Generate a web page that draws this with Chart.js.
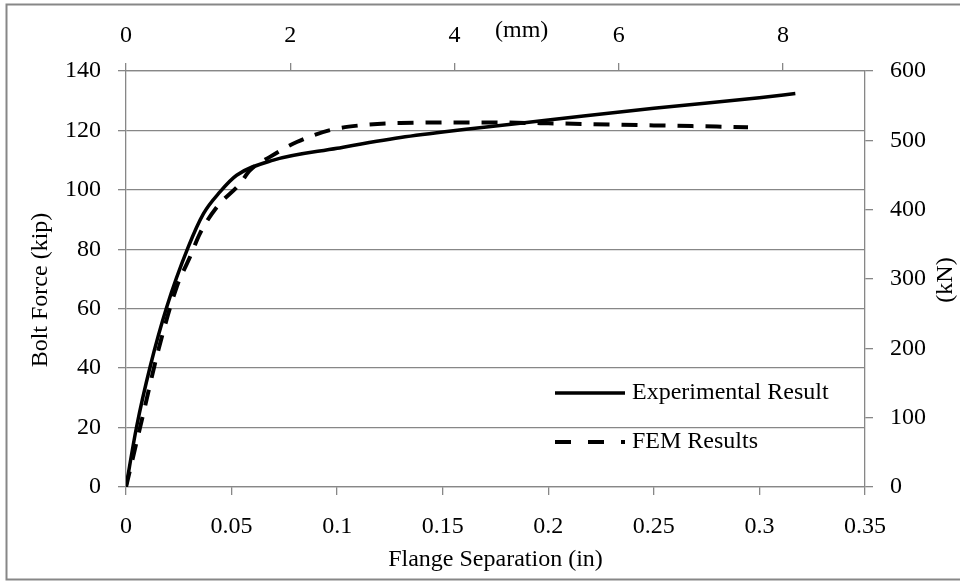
<!DOCTYPE html>
<html>
<head>
<meta charset="utf-8">
<script src="https://cdn.jsdelivr.net/npm/chart.js@4"></script>
<style>
  body { margin: 0; background: #fff; }
  #wrap { width: 960px; height: 581px; }
</style>
</head>
<body>
<div id="wrap"><canvas id="boltChart" width="960" height="581"></canvas></div>
<script>
// Experimental result (solid line): flange separation (in) vs bolt force (kip)
const expSep = [0, 0.005, 0.0114, 0.0193, 0.0295, 0.0367, 0.0445, 0.0524, 0.0698, 0.1, 0.13, 0.16, 0.2, 0.25, 0.3, 0.317];
const expForce = [0, 20.2, 40.4, 60.6, 80.8, 92, 99.3, 104.9, 110, 114, 117.6, 120.3, 123.5, 127.5, 131, 132.4];

// FEM results (dashed line)
const femSep = [0, 0.0082, 0.0153, 0.024, 0.0303, 0.035, 0.043, 0.054, 0.0587, 0.0682, 0.0809, 0.0966, 0.1108, 0.13, 0.17, 0.2, 0.25, 0.2946];
const femForce = [0, 24.7, 46, 67.3, 77.4, 85.3, 94.2, 102.1, 106.6, 111.1, 116.1, 120.1, 121.7, 122.5, 122.7, 122.4, 121.7, 121.1];

// tick labels of the secondary axes
const mmTicks = [0, 2, 4, 6, 8];
const kNTicks = [0, 100, 200, 300, 400, 500, 600];

const seriesNames = ["Experimental Result", "FEM Results"];

const GRAY = "#878787";
const FONT = "'Liberation Serif', 'Times New Roman', serif";

Chart.defaults.font.family = FONT;
Chart.defaults.font.size = 24;
Chart.defaults.color = "#000";

const toPoints = (xs, ys) => xs.map((x, i) => ({ x: x, y: ys[i] }));

// white page with gray frame
const frame = {
  id: "frame",
  beforeDraw(chart) {
    const ctx = chart.ctx;
    ctx.save();
    ctx.fillStyle = "#fff";
    ctx.fillRect(0, 0, chart.width, chart.height);
    ctx.strokeStyle = GRAY;
    ctx.lineWidth = 2;
    ctx.strokeRect(6.5, 4.5, chart.width + 10, chart.height - 6);
    ctx.restore();
  },
};

// extra titles and the legend inside the plot
const extras = {
  id: "extras",
  afterDraw(chart) {
    const ctx = chart.ctx;
    const area = chart.chartArea;
    ctx.save();
    ctx.fillStyle = "#000";
    ctx.font = "24px " + FONT;
    ctx.textBaseline = "middle";

    // (mm) on the top axis
    ctx.textAlign = "left";
    ctx.fillText("(mm)", 495, 31);

    // left title
    ctx.save();
    ctx.translate(41, 290);
    ctx.rotate(-Math.PI / 2);
    ctx.textAlign = "center";
    ctx.fillText("Bolt Force (kip)", 0, 0);
    ctx.restore();

    // right title
    ctx.save();
    ctx.translate(946, 280);
    ctx.rotate(-Math.PI / 2);
    ctx.textAlign = "center";
    ctx.fillText("(kN)", 0, 0);
    ctx.restore();

    // legend
    const lx = area.left + 429;
    ctx.strokeStyle = "#000";
    ctx.lineWidth = 3.5;
    ctx.beginPath();
    ctx.moveTo(lx, 393);
    ctx.lineTo(lx + 70, 393);
    ctx.stroke();
    ctx.lineWidth = 4;
    ctx.setLineDash([16, 17]);
    ctx.beginPath();
    ctx.moveTo(lx, 442);
    ctx.lineTo(lx + 70, 442);
    ctx.stroke();
    ctx.setLineDash([]);
    ctx.textAlign = "left";
    ctx.fillText(seriesNames[0], lx + 77, 393);
    ctx.fillText(seriesNames[1], lx + 77, 442);
    ctx.restore();
  },
};

const axisGrid = (onArea) => ({
  drawOnChartArea: onArea,
  drawTicks: true,
  tickLength: 8,
  color: GRAY,
  lineWidth: 1.3,
});
const axisBorder = { display: true, color: GRAY, width: 1.3 };

new Chart(document.getElementById("boltChart").getContext("2d"), {
  type: "scatter",
  data: {
    datasets: [
      {
        label: seriesNames[0],
        data: toPoints(expSep, expForce),
        showLine: true,
        borderColor: "#000",
        borderWidth: 3.5,
        pointRadius: 0,
        cubicInterpolationMode: "monotone",
        xAxisID: "x",
        yAxisID: "y",
      },
      {
        label: seriesNames[1],
        data: toPoints(femSep, femForce),
        showLine: true,
        borderColor: "#000",
        borderWidth: 4,
        borderDash: [16, 12],
        pointRadius: 0,
        cubicInterpolationMode: "monotone",
        xAxisID: "x",
        yAxisID: "y",
      },
    ],
  },
  options: {
    responsive: false,
    animation: false,
    layout: { padding: 0 },
    plugins: {
      legend: { display: false },
      tooltip: { enabled: false },
    },
    scales: {
      x: {
        type: "linear",
        position: "bottom",
        min: 0,
        max: 0.35,
        grid: axisGrid(false),
        border: axisBorder,
        ticks: {
          stepSize: 0.05,
          padding: 17,
          maxRotation: 0,
          callback: (v) => String(+v.toFixed(2)),
        },
        title: {
          display: true,
          text: "Flange Separation (in)",
          padding: { top: 0, bottom: 7 },
        },
        afterFit: (s) => { s.height = 94; },
      },
      x2: {
        type: "linear",
        position: "top",
        min: 0,
        max: 9,
        grid: axisGrid(false),
        border: axisBorder,
        ticks: { padding: 13, maxRotation: 0 },
        afterBuildTicks: (s) => { s.ticks = mmTicks.map((v) => ({ value: v })); },
        afterFit: (s) => { s.height = 71; },
      },
      y: {
        type: "linear",
        position: "left",
        min: 0,
        max: 140,
        grid: axisGrid(true),
        border: axisBorder,
        ticks: { stepSize: 20, padding: 17 },
        afterFit: (s) => { s.width = 126; },
      },
      y2: {
        type: "linear",
        position: "right",
        min: 0,
        max: 600,
        grid: axisGrid(false),
        border: axisBorder,
        ticks: { padding: 17 },
        afterBuildTicks: (s) => { s.ticks = kNTicks.map((v) => ({ value: v })); },
        afterFit: (s) => { s.width = 95; },
      },
    },
  },
  plugins: [frame, extras],
});
</script>
</body>
</html>
